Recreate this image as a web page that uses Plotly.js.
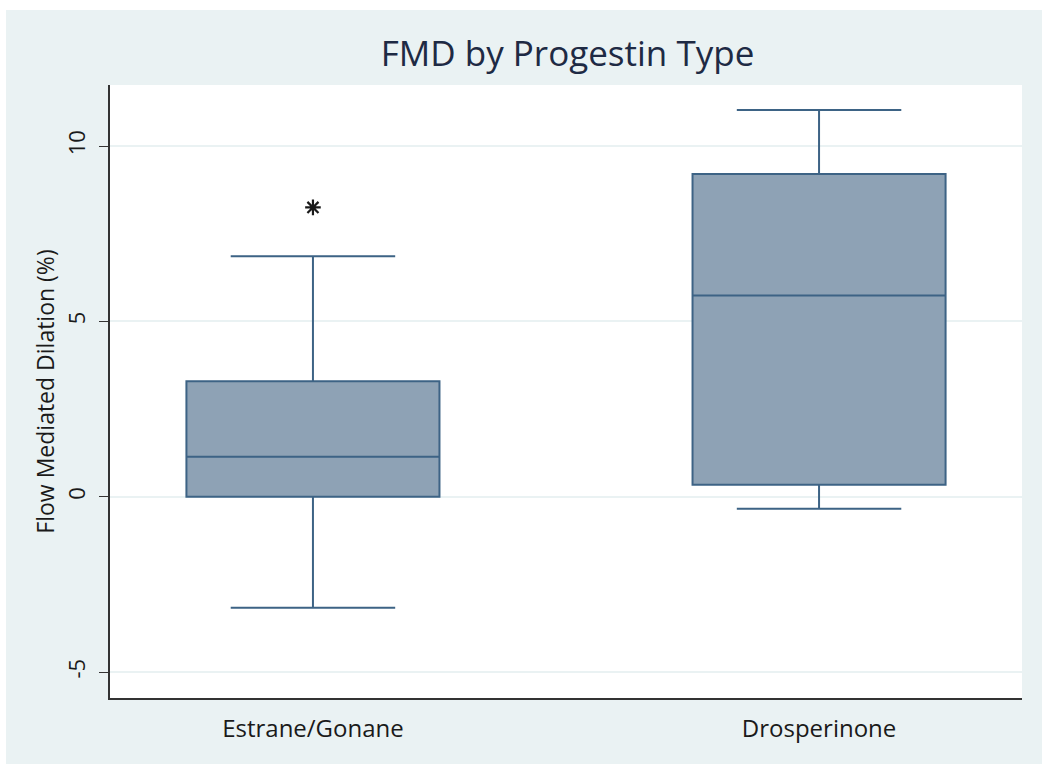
<!DOCTYPE html>
<html>
<head>
<meta charset="utf-8">
<script src="https://cdn.plot.ly/plotly-3.0.1.min.js"></script>
<style>
  body { margin: 0; background: #ffffff; }
  #chart { position: absolute; left: 6px; top: 10px; width: 1036px; height: 754px; }
</style>
</head>
<body>
<div id="chart"></div>
<script>
// Box summaries
const groups = ['Estrane/Gonane', 'Drosperinone'];
const lowerWhisker = [-3.17, -0.34];
const q1Values = [0.0, 0.34];
const medianValues = [1.14, 5.74];
const q3Values = [3.29, 9.2];
const upperWhisker = [6.86, 11.03];

// Outside value shown with an asterisk
const outlierGroup = ['Estrane/Gonane'];
const outlierValue = [8.25];

const yTicks = [-5, 0, 5, 10];

const fontFamily = 'Open Sans, Liberation Sans, sans-serif';

const traces = [
    {
        type: 'box',
        x: groups,
        lowerfence: lowerWhisker,
        q1: q1Values,
        median: medianValues,
        q3: q3Values,
        upperfence: upperWhisker,
        fillcolor: '#8ea2b5',
        line: { color: '#3d6385', width: 2 },
        whiskerwidth: 0.65,
        boxpoints: false,
        hoverinfo: 'y',
        showlegend: false
    },
    {
        type: 'scatter',
        mode: 'markers',
        x: outlierGroup,
        y: outlierValue,
        marker: {
            symbol: 'asterisk-open',
            size: 13,
            color: '#1a1a1a',
            line: { color: '#1a1a1a', width: 2.2 }
        },
        hoverinfo: 'y',
        showlegend: false
    }
];

const layout = {
    paper_bgcolor: '#eaf2f3',
    plot_bgcolor: '#ffffff',
    font: { family: fontFamily, color: '#1a1a1a' },
    title: {
        text: 'FMD by Progestin Type',
        font: { size: 35, color: '#1e2a44', family: fontFamily },
        x: 0.542,
        xanchor: 'center',
        y: 0.9416,
        yanchor: 'middle'
    },
    boxgap: 0.5,
    boxgroupgap: 0,
    xaxis: {
        type: 'category',
        range: [-0.401, 1.401],
        showgrid: false,
        showline: true,
        linecolor: '#333333',
        linewidth: 1.5,
        ticks: '',
        ticklabelstandoff: 8,
        tickfont: { size: 24, color: '#1a1a1a' },
        zeroline: false
    },
    yaxis: {
        title: {
            text: 'Flow Mediated Dilation (%)',
            font: { size: 23, color: '#1a1a1a' },
            standoff: 0
        },
        range: [-5.74, 11.74],
        tickvals: yTicks,
        ticktext: yTicks.map(String),
        tickangle: -90,
        tickfont: { size: 22, color: '#1a1a1a' },
        ticks: 'outside',
        ticklen: 9,
        ticklabelstandoff: 5,
        tickcolor: '#333333',
        showline: true,
        linecolor: '#333333',
        linewidth: 1.5,
        showgrid: true,
        gridcolor: '#eaf2f3',
        gridwidth: 1.5,
        zeroline: false
    },
    margin: { l: 104, r: 20, t: 75, b: 66 },
    showlegend: false
};

const config = { displayModeBar: false, responsive: false };

Plotly.newPlot('chart', traces, layout, config);
</script>
</body>
</html>
